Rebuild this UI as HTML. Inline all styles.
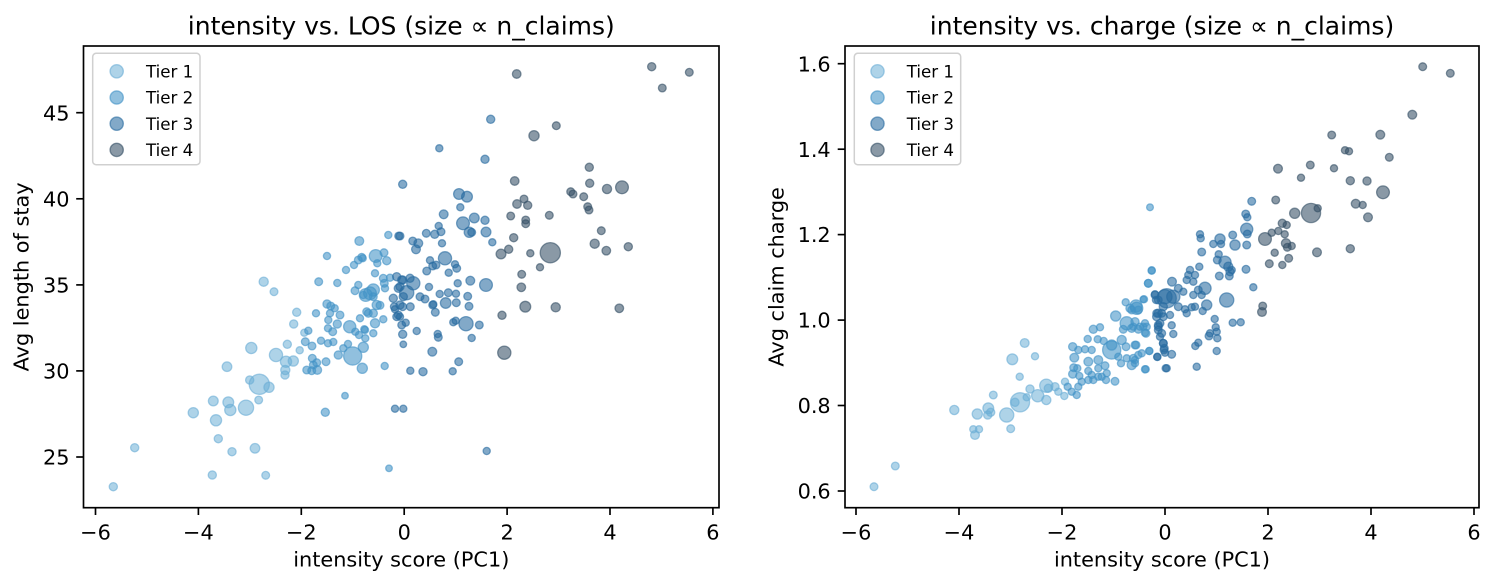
<!DOCTYPE html>
<html>
<head>
<meta charset="utf-8">
<style>
html,body{margin:0;padding:0;background:#fff;}
svg{display:block;}
text{font-family:"DejaVu Sans","Liberation Sans",sans-serif;fill:#000;}
</style>
</head>
<body>
<svg id="fig" width="1495" height="586" viewBox="0 0 1495 586" xmlns="http://www.w3.org/2000/svg">
<rect x="0" y="0" width="1495" height="586" fill="#fff"/>
<defs>
<clipPath id="cl"><rect x="83.5" y="46" width="635.5" height="461.7"/></clipPath>
<clipPath id="cr"><rect x="845" y="46" width="634" height="461.7"/></clipPath>
</defs>

<text x="401.3" y="34.3" font-size="25" text-anchor="middle">intensity vs. LOS (size ∝ n_claims)</text>
<text x="1162" y="34.3" font-size="25" text-anchor="middle">intensity vs. charge (size ∝ n_claims)</text>

<g id="ptsL" clip-path="url(#cl)"></g>
<g id="ptsR" clip-path="url(#cr)"></g>

<g stroke="#000" stroke-width="1.67" fill="none">
<rect x="83.5" y="46" width="635.5" height="461.7"/>
<line x1="95.5" y1="507.7" x2="95.5" y2="515"/>
<line x1="198.4" y1="507.7" x2="198.4" y2="515"/>
<line x1="301.3" y1="507.7" x2="301.3" y2="515"/>
<line x1="404.2" y1="507.7" x2="404.2" y2="515"/>
<line x1="507.1" y1="507.7" x2="507.1" y2="515"/>
<line x1="610" y1="507.7" x2="610" y2="515"/>
<line x1="712.9" y1="507.7" x2="712.9" y2="515"/>
<line x1="76.2" y1="457" x2="83.5" y2="457"/>
<line x1="76.2" y1="370.9" x2="83.5" y2="370.9"/>
<line x1="76.2" y1="284.9" x2="83.5" y2="284.9"/>
<line x1="76.2" y1="198.8" x2="83.5" y2="198.8"/>
<line x1="76.2" y1="112.7" x2="83.5" y2="112.7"/>
</g>
<g font-size="20.83" text-anchor="middle">
<text x="95.5" y="539.5">−6</text>
<text x="198.4" y="539.5">−4</text>
<text x="301.3" y="539.5">−2</text>
<text x="404.2" y="539.5">0</text>
<text x="507.1" y="539.5">2</text>
<text x="610" y="539.5">4</text>
<text x="712.9" y="539.5">6</text>
</g>
<g font-size="20.83" text-anchor="end">
<text x="69.5" y="464.6">25</text>
<text x="69.5" y="378.5">30</text>
<text x="69.5" y="292.5">35</text>
<text x="69.5" y="206.4">40</text>
<text x="69.5" y="120.3">45</text>
</g>
<text x="401.3" y="566.5" font-size="20.83" text-anchor="middle">intensity score (PC1)</text>
<text transform="translate(28.5,276.9) rotate(-90)" font-size="20.83" text-anchor="middle">Avg length of stay</text>

<g stroke="#000" stroke-width="1.67" fill="none">
<rect x="845" y="46" width="634" height="461.7"/>
<line x1="856" y1="507.7" x2="856" y2="515"/>
<line x1="959" y1="507.7" x2="959" y2="515"/>
<line x1="1062" y1="507.7" x2="1062" y2="515"/>
<line x1="1165" y1="507.7" x2="1165" y2="515"/>
<line x1="1268" y1="507.7" x2="1268" y2="515"/>
<line x1="1371" y1="507.7" x2="1371" y2="515"/>
<line x1="1474" y1="507.7" x2="1474" y2="515"/>
<line x1="837.7" y1="491" x2="845" y2="491"/>
<line x1="837.7" y1="405.5" x2="845" y2="405.5"/>
<line x1="837.7" y1="320.1" x2="845" y2="320.1"/>
<line x1="837.7" y1="234.6" x2="845" y2="234.6"/>
<line x1="837.7" y1="149.2" x2="845" y2="149.2"/>
<line x1="837.7" y1="63.7" x2="845" y2="63.7"/>
</g>
<g font-size="20.83" text-anchor="middle">
<text x="856" y="539.5">−6</text>
<text x="959" y="539.5">−4</text>
<text x="1062" y="539.5">−2</text>
<text x="1165" y="539.5">0</text>
<text x="1268" y="539.5">2</text>
<text x="1371" y="539.5">4</text>
<text x="1474" y="539.5">6</text>
</g>
<g font-size="20.83" text-anchor="end">
<text x="830.7" y="498.6">0.6</text>
<text x="830.7" y="413.1">0.8</text>
<text x="830.7" y="327.7">1.0</text>
<text x="830.7" y="242.2">1.2</text>
<text x="830.7" y="156.8">1.4</text>
<text x="830.7" y="71.3">1.6</text>
</g>
<text x="1162" y="566.5" font-size="20.83" text-anchor="middle">intensity score (PC1)</text>
<text transform="translate(783.3,276.9) rotate(-90)" font-size="20.83" text-anchor="middle">Avg claim charge</text>

<g>
<rect x="92.7" y="53.3" width="107.3" height="111.4" rx="3.5" fill="#fff" fill-opacity="0.8" stroke="#d0d0d0" stroke-width="1.5"/>
<circle cx="116.7" cy="71.3" r="6.6" fill="#6baed6" fill-opacity="0.55" stroke="#6baed6" stroke-opacity="0.6" stroke-width="1.4"/>
<circle cx="116.7" cy="97.5" r="6.6" fill="#4292c6" fill-opacity="0.58" stroke="#4292c6" stroke-opacity="0.6" stroke-width="1.4"/>
<circle cx="116.7" cy="123.7" r="6.6" fill="#286ba0" fill-opacity="0.58" stroke="#286ba0" stroke-opacity="0.6" stroke-width="1.4"/>
<circle cx="116.7" cy="149.9" r="6.6" fill="#355066" fill-opacity="0.58" stroke="#355066" stroke-opacity="0.6" stroke-width="1.4"/>
<g font-size="16.67">
<text x="146" y="77.4">Tier 1</text>
<text x="146" y="103.6">Tier 2</text>
<text x="146" y="129.8">Tier 3</text>
<text x="146" y="156">Tier 4</text>
</g>
</g>
<g>
<rect x="854.3" y="53.3" width="106.4" height="111.4" rx="3.5" fill="#fff" fill-opacity="0.8" stroke="#d0d0d0" stroke-width="1.5"/>
<circle cx="877.5" cy="71.3" r="6.6" fill="#6baed6" fill-opacity="0.55" stroke="#6baed6" stroke-opacity="0.6" stroke-width="1.4"/>
<circle cx="877.5" cy="97.5" r="6.6" fill="#4292c6" fill-opacity="0.58" stroke="#4292c6" stroke-opacity="0.6" stroke-width="1.4"/>
<circle cx="877.5" cy="123.7" r="6.6" fill="#286ba0" fill-opacity="0.58" stroke="#286ba0" stroke-opacity="0.6" stroke-width="1.4"/>
<circle cx="877.5" cy="149.9" r="6.6" fill="#355066" fill-opacity="0.58" stroke="#355066" stroke-opacity="0.6" stroke-width="1.4"/>
<g font-size="16.67">
<text x="906.7" y="77.4">Tier 1</text>
<text x="906.7" y="103.6">Tier 2</text>
<text x="906.7" y="129.8">Tier 3</text>
<text x="906.7" y="156">Tier 4</text>
</g>
</g>
</svg>
<script>
(function(){
var COL=['#6baed6','#4292c6','#286ba0','#355066'];
var FO=[0.55,0.58,0.58,0.58];
var L=[
[516.7,74,4.2],[651.7,66.7,4],[689.3,72.3,3.8],[662.3,88,3.8],[556.3,125.7,3.8],[534,135.7,5],[589.3,167.3,4],[514.7,181,4.2],[589.7,183.3,4],[622,187.3,6.3],[607,189,4.5],[570.7,191.7,3.8],[573,194,3.8],[583.7,196.7,3.8],[524,199,3.8],[517,204,4.2],[527.7,205.3,4],[587.7,206.7,3.8],[589,210,3.8],[549.3,215.3,3.8],[510.7,216,3.8],[525.7,220,3.8],[525.7,223.7,3.8],[601.3,230.7,3.8],[513.7,237.7,4],[594.7,243.7,4.5],[628.3,246.7,4],[606.3,250.7,4.2],[550.3,252.7,10],[501,254,4.8],[508.7,249.3,4],[530.3,253.3,3.5],[540,267.3,3.5],[521.7,274.3,3.8],[521.3,287.3,4.2],[525.3,306.7,5.3],[555.7,307.3,4.5],[619.3,308.3,4.2],[502,315.3,4],[504.3,352.7,6.5],
[490.7,119.3,4],[439.3,148.3,3.5],[485,159.3,4],[402.7,184.3,4],[459,194,5.3],[467,196.7,5.3],[460.3,207.3,3.5],[443.7,214.3,4.3],[463,223.3,6.3],[474.3,218,4.8],[485,220.3,4],[438.7,226,3.5],[441,231.7,3.8],[434.7,234.3,4],[426.3,233.3,3.8],[469.3,232.3,5],[471.7,232.3,3.8],[486,232,4.8],[492.3,242.3,3.5],[442,243.3,3.5],[412.7,241,3.8],[418.3,243.3,4.3],[416,249.3,4.3],[400,236,3.8],[445,258.3,6.5],[430,260.3,3.5],[432.7,266,3.8],[436,265,3.8],[426.7,271,3.8],[455,264.3,3.5],[456.7,268.3,3.8],[448.7,272.7,3.5],[413.3,283.3,6.5],[406.7,292.7,7],[402.7,280,4],[400,286.7,4],[429,287,3.5],[457.7,283.3,3.5],[470.3,280.7,4.3],[486,285,6.3],[425,299,3.8],[433.3,304.3,3.5],[435.3,312.3,3.8],[439.7,294,3.5],[448.3,292.7,3.8],[456,293.7,3.5],[445.7,303,5.2],[456.3,302.7,3.8],[467.7,296.3,3.8],[469,306.3,3.8],[410.3,306.7,3.8],[402.7,306.7,3.8],[405.7,322.7,3.5],[400,316.7,3.5],[453.3,322.3,3.5],[455.7,320.7,3.5],[466,323.7,7],[479.3,325,3.8],[416.7,331,3.5],[402.7,334.3,4],[437.7,334,3.5],[438.3,337.3,3.8],[471.7,338,3.5],[403.3,344.3,3.2],[432.3,351.7,4.3],[458.7,361.7,3.8],[410.3,370.7,3.5],[423,371.7,4],[452.7,371.3,3.5],[486.7,451,3.5],
[396.7,276.7,4],[401.7,280,4],[410,278.3,4],[398.3,288.3,4],[393.3,298.3,4],[403.3,296.7,4],[400,305,4],[395,309.3,3.5],[420,296.7,3.8],[432.7,305,3.8],[394.3,306.7,3.8],[398.3,315,3.8],
[388.3,235,3.5],[398.7,236,3.8],[359.3,241,4.3],[327,256,3.5],[375.7,256,6.3],[384,252.7,3.8],[361.7,257.3,3.8],[358.3,260,3.8],[354,265,3.5],[386.7,260.7,4],[377.3,263.3,3.5],[362.7,258.3,3.5],[346,270,3.5],[375,273.3,3.5],[263.7,281.7,4.5],[274,291.7,3.8],[318.7,281.7,3.8],[337.3,283,3.5],[383.3,278.3,3.8],[390,277.7,3.5],[358.3,285,3.5],[355,290.7,3.8],[365.7,295,6.3],[373.3,290,6],[384.3,283.3,3.8],[385,288.3,3.5],[370,293.3,6.3],[363.3,295,3.5],[373.3,296.7,3.8],[296.7,312.3,4],[316,313.3,3.5],[327,304,4],[330.7,306,3.8],[334.7,308.3,3.5],[340,315,3.8],[330,313.3,3.5],[328.3,320,3.5],[328,328.3,3.5],[337.3,324,4],[332.7,331.7,3.8],[349.7,326.7,6],[355.3,331.7,3.5],[359,335,3.5],[364.3,329.3,3.5],[376.7,305,4.5],[373.3,313.3,4],[375,323.3,4.5],[366.7,311.7,3.8],[360,318.3,3.5],[383.3,319.3,3.5],[365,330,3.5],[396.7,316.7,3.8],[401.7,325,3.8],[380,305.3,3.8],[368.3,313.3,3.8],[293.7,324,4],[304.3,332.7,3.5],[308.3,330.7,3.5],[305.3,341.7,3.8],[312,346,3.8],[321,340.7,3.5],[328,343.3,3.5],[333.3,342,3.5],[299.7,350.3,3.5],[287.3,344.3,4],[251.3,348,5.5],[276,355,6.5],[286,361.7,5.5],[293.3,361,5],[285.3,370,4.5],[285,375,4],[312.3,358.3,3.8],[313.3,365,3.8],[316.7,362.7,3.8],[317.3,370,4.2],[306.7,370,3.8],[311.7,370.7,3.8],[326,361.7,3.8],[338.3,355,4],[343.3,348.3,3.5],[348,344,3.5],[352.7,356,9],[363.3,347.3,5],[362.3,368.3,5],[365.3,338.3,3.5],[373.3,333.3,3.5],[384.7,366,3.5],[395,408.7,3.5],[403.3,408.7,3.5],[345,395.7,3.2],[325.3,412.3,4],[389,468.3,3.2],
[227,366.7,4.7],[249.7,380,4],[259.3,384.3,10],[269,387.3,5],[258.7,400,3.8],[213.3,401,4.8],[228.3,402.3,5.3],[230.3,410,5.5],[246,407.7,7.5],[216,420.3,5.5],[218.3,438.7,4],[232,451.7,4],[255,448.3,4.7],[193.3,412.7,5],[134.7,447.7,4],[212.3,475,4],[265.7,475.3,3.8],[113.3,486.7,4]
];
var R=[
[874,486.7,3.8],[895.3,466,3.8],[954.3,410,4.5],[975,435,4.3],[973.3,429.3,3.5],[979,429.3,3.5],[977.3,414,5],[988.3,408.3,5.3],[990.7,412.3,4],[987.7,415,4],[993.3,395,3.8],[1010.7,428.7,3.8],[1006.7,415,7],[1020,402.3,9.5],[1015,402.3,4],[1012.3,359.3,5.3],[1019.7,376.7,3.5],[1024.7,343,4.3],[1035,356.3,3.5],[1030,389,4],[1037.7,395.7,6],[1046.3,385.7,6.5],[1046.3,400,4.5],[1055,386.7,4],[1048.3,388.3,4],[1058.3,391.7,3.5],[1026.7,397.3,3.5],
[1065,381.7,3.5],[1067.7,386.7,3.5],[1071.7,391.7,3.5],[1076.7,395,3.5],[1064.3,396,3.5],[1078.3,386.7,3.5],[1072.7,374,4],[1081.7,381.7,3.5],[1079.3,376,3.5],[1073.7,367.7,3.8],[1077.3,368.3,3.5],[1088.3,380,3.5],[1093.3,380,3.5],[1091.7,375,3.5],[1098.3,376.7,3.5],[1106.7,373.3,3.5],[1106,380,3.5],[1115,381.3,3.8],[1101.7,376.7,3.5],
[1074.3,357.7,4.3],[1088.3,361.7,4.3],[1098.3,360,4.3],[1105,365.7,3.8],[1088.3,371,3.5],[1098.3,368.3,3.5],
[1072.7,346.7,4],[1078.3,350,3.5],[1085,349.3,3.5],[1091.7,350,3.5],[1087.7,339,3.5],[1097.7,339.3,3.5],[1103.7,341,3.5],
[1111.7,350,9],[1111.7,345,5],[1121.7,340,4.5],[1118.3,356.7,3.5],[1126.7,358.3,3.5],[1131.7,365,4.5],[1135,360,3.5],[1138.3,355,3.5],[1136,345,3.8],[1126,346.7,3.8],[1121,363.3,3.5],
[1093.3,329.3,4],[1100,327.3,3.5],[1115.7,316,5],[1126.7,323.3,6.5],[1123.3,329.3,3.8],[1131.7,328.3,4],[1138.3,329.3,3.8],[1143.3,326.7,3.5],[1146,333.3,3.8],[1135,321.7,4],[1145,323.3,3.5],
[1125.7,302.3,3.5],[1136,306,6],[1131.7,310,3.8],[1138.3,310,3.8],[1144,299.3,3.5],[1148.3,283.3,3.8],[1151.7,270.7,3.5],[1149.3,351,3.5],[1157.3,356.7,3.5],[1145.7,369.3,3.5],[1165.7,368.3,3.5],
[1155,295,3.8],[1158.3,300,3.8],[1165,296.7,7],[1156.7,313.3,3.8],[1161.7,313.3,3.8],[1160,323.3,3.8],[1158.3,326.7,3.8],[1161.7,333.3,3.8],[1163.3,343.3,3.8],[1164,350,3.8],
[1422.7,66.7,3.8],[1450.3,73.3,3.8],[1412.3,114.7,4.3],[1331.7,135,3.8],[1380.3,134.7,4.3],[1345,150.3,3.5],[1349,151.3,3.5],[1389.3,157.3,3.8],[1278,168.7,4.3],[1310.3,165,3.8],[1334,168.3,3.5],[1301,177.7,3.5],[1350.3,180.7,4],[1367,181,4],[1383,192.3,6.3],[1275.7,200,3.8],[1251.7,201.3,3.8],[1355.7,203.7,4.3],[1362.7,205,3.5],[1368,217.3,4.3],[1311,213,9.5],[1317.7,208.3,3.5],[1294.7,213.3,5],[1150,207.3,3.3],[1245.7,214,3.8],[1247.3,217.3,3.5],[1282.3,223.3,4],[1286.7,225,3.5],[1246.7,229.3,6],[1247.3,234,3.8],[1278.3,231,3.5],[1271.7,232.7,3.5],[1284.7,234.3,3.5],[1265,239,6.3],[1286,243.3,4.5],[1287.3,247.3,3.8],[1291.7,246,3.5],[1200,234.3,3.5],[1200.7,238.3,3.5],[1220,239,5],[1221,244,3.5],[1213.3,244,3.5],[1232.7,235,3.8],[1235,245,5],[1246.7,245,3.8],[1317,252.3,4.3],[1350.3,248.7,4],[1274.7,252.7,3.5],[1288.7,258.3,3.8],[1269.3,263.7,3.8],[1282.3,265,3.5],[1201.7,252,3.8],[1218.7,254.3,3.5],[1217.3,260,3.8],[1225,262.3,6],[1228.3,266.7,4.5],[1230,271.7,4],[1229.3,276,3.8],[1231.7,270,3.5],[1199.3,266.7,3.5],[1246,269.3,3.8],[1219.3,276,3.8],[1151.7,270.3,3.5],[1190,270,3.5],[1188.3,275,3.5],[1195,275,3.5],[1186.7,280,3.5],[1193.3,281.7,3.5],[1172,281.7,4.3],[1148.3,283.3,3.8],[1178.3,288.3,3.8],[1183.3,291.7,3.5],[1198.3,290,3.8],[1205,288.3,6],[1206.7,305,5],[1193.3,295,3.5],[1201.7,295,3.5],[1166.7,298.3,9.5],[1173.3,296.7,6.5],[1226.7,300,7],[1253.3,287.3,3.5],[1143.3,299.3,3.2],[1155,294.3,3.5],[1156,300,3.5],[1136.7,308.3,6],[1130,308.3,4],[1163.3,306.7,4],[1158.3,313.3,4],[1156.7,316.7,4],[1163.3,316.7,3.8],[1170,315,3.5],[1178.3,306.7,3.8],[1185,309.3,3.5],[1191.7,307.3,3.5],[1195,306.7,3.5],[1186.7,313.3,3.5],[1202.7,311,3.5],[1262.7,306,3.8],[1262,312,4.3],[1214.7,319,3.5],[1232.7,322.7,3.5],[1240.7,322.3,3.5],[1158.3,325,3.8],[1158.3,330,3.8],[1171.7,325.3,3.5],[1146.7,326.7,3.5],[1140,326.7,3.5],[1133.3,326.7,3.5],[1145,332.7,3.5],[1173.3,334,3.5],[1160,336.7,3.5],[1215.7,327.3,3.5],[1216.7,331.7,3.5],[1210,333.3,3.5],[1209,336,3.8],[1217.3,338.3,3.5],[1163.3,343.3,3.8],[1164.3,348.3,3.8],[1198.3,342.7,3.5],[1195.3,346,3.5],[1135,345,3.8],[1216.7,351,3.5],[1149.3,351,3.5],[1141.7,353.3,3.5],[1171.7,354.3,3.8],[1165,352.7,3.5],[1157.3,357,3.5],[1133.3,358.3,3.8],[1135,363.3,3.5],[1196.7,366.7,3.5],[1166.7,368.3,3.5],[1145,369.3,3.5]
];
function tL(x){return x<305?0:(x<392?1:(x<497?2:3));}
function tR(x){return x<1066?0:(x<1153?1:(x<1258?2:3));}
function build(arr,tf){
  var out=[[],[],[],[]];
  for(var i=0;i<arr.length;i++){var p=arr[i];out[tf(p[0])].push(p);}
  var s='';
  for(var t=0;t<4;t++){
    var c=COL[t];
    for(var j=0;j<out[t].length;j++){
      var p=out[t][j];var r=p[2]+0.1;
      s+='<circle cx="'+p[0]+'" cy="'+p[1]+'" r="'+r.toFixed(2)+'" fill="'+c+'" fill-opacity="'+FO[t]+'" stroke="'+c+'" stroke-opacity="0.6" stroke-width="1.3"/>';
    }
  }
  return s;
}
document.getElementById('ptsL').innerHTML=build(L,tL);
document.getElementById('ptsR').innerHTML=build(R,tR);
})();
</script>
</body>
</html>
